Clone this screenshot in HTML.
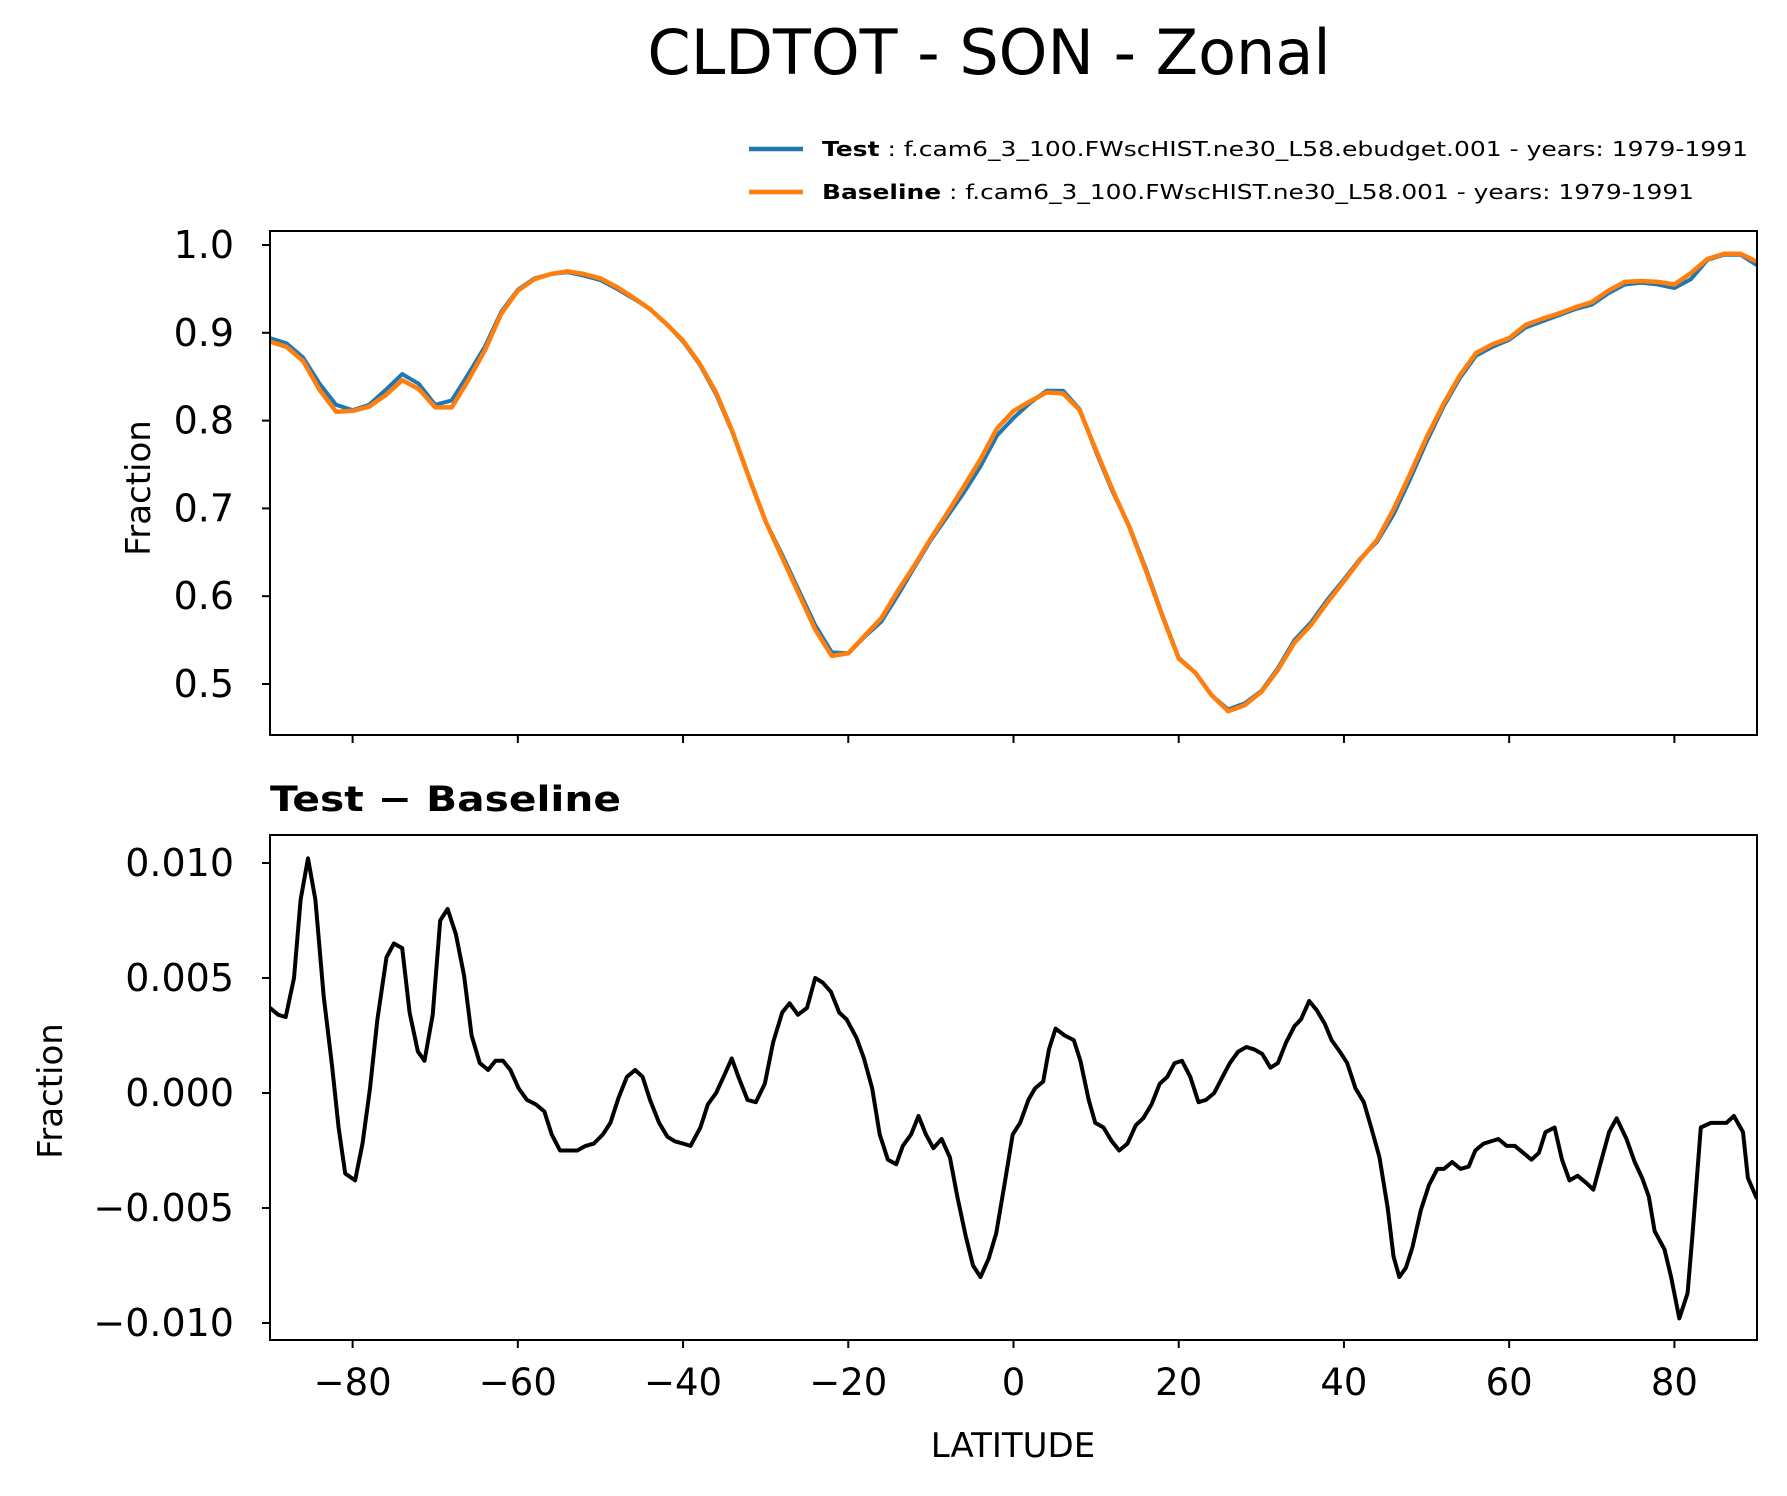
<!DOCTYPE html>
<html><head><meta charset="utf-8"><style>
body{margin:0;background:#fff}
svg{display:block;font-family:"DejaVu Sans","Liberation Sans",sans-serif}
</style></head><body>
<svg id="chart" width="1787" height="1496" viewBox="0 0 1787 1496" xmlns="http://www.w3.org/2000/svg">
<rect width="1787" height="1496" fill="#fff"/>
<text x="989" y="74" font-size="62" text-anchor="middle">CLDTOT - SON - Zonal</text>
<g>
<line x1="749" y1="149" x2="803" y2="149" stroke="#1f77b4" stroke-width="4.5"/>
<text x="822" y="156" font-size="20" textLength="926" lengthAdjust="spacingAndGlyphs"><tspan font-weight="bold">Test</tspan> : f.cam6_3_100.FWscHIST.ne30_L58.ebudget.001 - years: 1979-1991</text>
<line x1="749" y1="192" x2="803" y2="192" stroke="#ff7f0e" stroke-width="4.5"/>
<text x="822" y="199" font-size="20" textLength="872" lengthAdjust="spacingAndGlyphs"><tspan font-weight="bold">Baseline</tspan> : f.cam6_3_100.FWscHIST.ne30_L58.001 - years: 1979-1991</text>
</g>
<g id="top"></g>
<g id="bot"></g>
<text x="270" y="811" font-size="35" font-weight="bold" textLength="351" lengthAdjust="spacingAndGlyphs">Test − Baseline</text>
<text x="1013" y="1457" font-size="34" text-anchor="middle">LATITUDE</text>
<text transform="translate(150,488) rotate(-90)" font-size="34" text-anchor="middle">Fraction</text>
<text transform="translate(62,1091) rotate(-90)" font-size="34" text-anchor="middle">Fraction</text>
</svg>
<script>
const latTop = [-90,-88,-86,-84,-82,-80,-78,-76,-74,-72,-70,-68,-66,-64,-62,-60,-58,-56,-54,-52,-50,-48,-46,-44,-42,-40,-38,-36,-34,-32,-30,-28,-26,-24,-22,-20,-18,-16,-14,-12,-10,-8,-6,-4,-2,0,2,4,6,8,10,12,14,16,18,20,22,24,26,28,30,32,34,36,38,40,42,44,46,48,50,52,54,56,58,60,62,64,66,68,70,72,74,76,78,80,82,84,86,88,90];
const baseline = [0.890,0.884,0.868,0.835,0.810,0.811,0.816,0.829,0.846,0.836,0.815,0.815,0.846,0.880,0.922,0.948,0.961,0.967,0.970,0.967,0.962,0.952,0.940,0.927,0.910,0.891,0.865,0.832,0.787,0.735,0.685,0.644,0.603,0.562,0.532,0.535,0.555,0.575,0.606,0.635,0.666,0.695,0.725,0.756,0.791,0.811,0.822,0.832,0.831,0.812,0.766,0.721,0.679,0.630,0.578,0.529,0.513,0.487,0.469,0.476,0.491,0.516,0.547,0.567,0.593,0.617,0.642,0.664,0.699,0.739,0.781,0.818,0.851,0.877,0.887,0.894,0.909,0.916,0.922,0.929,0.935,0.948,0.958,0.959,0.958,0.955,0.968,0.984,0.990,0.990,0.981];
const test = [0.894,0.888,0.872,0.842,0.818,0.812,0.818,0.835,0.853,0.842,0.818,0.823,0.853,0.884,0.924,0.949,0.962,0.967,0.969,0.965,0.960,0.950,0.939,0.927,0.910,0.890,0.864,0.830,0.786,0.735,0.685,0.647,0.607,0.567,0.536,0.535,0.554,0.571,0.601,0.633,0.664,0.691,0.718,0.748,0.783,0.803,0.820,0.834,0.834,0.813,0.764,0.719,0.680,0.632,0.579,0.530,0.513,0.487,0.471,0.478,0.492,0.518,0.550,0.570,0.596,0.619,0.643,0.662,0.693,0.733,0.776,0.815,0.848,0.874,0.884,0.892,0.906,0.913,0.920,0.927,0.932,0.945,0.955,0.957,0.955,0.951,0.961,0.983,0.989,0.989,0.977];
const latDiff = [-90,-89.0,-88.1,-87.1,-86.3,-85.4,-84.5,-83.5,-82.5,-81.7,-80.9,-79.7,-78.8,-77.9,-77.0,-75.9,-75.0,-74.0,-73.1,-72.1,-71.3,-70.3,-69.4,-68.5,-67.5,-66.5,-65.6,-64.6,-63.6,-62.7,-61.8,-60.9,-59.9,-58.9,-57.8,-56.8,-55.9,-54.9,-53.9,-52.8,-51.8,-50.8,-49.7,-48.8,-47.8,-46.8,-45.8,-44.9,-44.0,-42.9,-41.9,-41.0,-40.0,-39.1,-37.9,-37.0,-36.0,-35.1,-34.1,-33.3,-32.2,-31.2,-30.1,-29.1,-28.0,-27.1,-26.1,-25.0,-24.0,-23.1,-22.1,-21.1,-20.2,-19.0,-18.1,-17.1,-16.2,-15.2,-14.2,-13.4,-12.4,-11.5,-10.6,-9.7,-8.7,-7.7,-6.8,-5.8,-4.9,-4.0,-3.0,-2.1,-1.1,-0.1,0.8,1.8,2.6,3.6,4.3,5.1,6.2,7.3,8.1,9.1,9.9,10.9,11.9,12.8,13.8,14.8,15.7,16.7,17.7,18.6,19.5,20.4,21.4,22.4,23.3,24.3,25.3,26.2,27.2,28.2,29.1,30.1,31.1,32.0,33.0,34.0,34.8,35.8,36.7,37.7,38.5,39.5,40.4,41.4,42.4,43.3,44.3,45.3,46.0,46.7,47.5,48.3,49.3,50.3,51.3,52.1,53.1,54.1,55.1,55.9,56.9,58.7,59.7,60.7,61.7,62.7,63.6,64.4,65.5,66.4,67.3,68.3,69.3,70.2,71.1,72.1,73.0,74.2,75.2,76.1,76.9,77.6,78.8,79.6,80.6,81.6,82.2,83.2,84.4,85.5,86.3,87.2,88.3,88.9,90];
const diff = [0.0037,0.0034,0.0033,0.0050,0.0084,0.0102,0.0084,0.0042,0.0012,-0.0015,-0.0035,-0.0038,-0.0022,0.0002,0.0032,0.0059,0.0065,0.0063,0.0035,0.0018,0.0014,0.0034,0.0075,0.0080,0.0069,0.0051,0.0025,0.0013,0.0010,0.0014,0.0014,0.0010,0.0002,-0.0003,-0.0005,-0.0008,-0.0018,-0.0025,-0.0025,-0.0025,-0.0023,-0.0022,-0.0018,-0.0013,-0.0002,0.0007,0.0010,0.0007,-0.0003,-0.0013,-0.0019,-0.0021,-0.0022,-0.0023,-0.0015,-0.0005,0.0000,0.0007,0.0015,0.0007,-0.0003,-0.0004,0.0004,0.0022,0.0035,0.0039,0.0034,0.0037,0.0050,0.0048,0.0044,0.0035,0.0032,0.0024,0.0015,0.0002,-0.0018,-0.0029,-0.0031,-0.0023,-0.0018,-0.0010,-0.0018,-0.0024,-0.0020,-0.0028,-0.0045,-0.0062,-0.0075,-0.0080,-0.0072,-0.0061,-0.0040,-0.0018,-0.0013,-0.0003,0.0002,0.0005,0.0019,0.0028,0.0025,0.0023,0.0014,-0.0003,-0.0013,-0.0015,-0.0021,-0.0025,-0.0022,-0.0014,-0.0011,-0.0005,0.0004,0.0007,0.0013,0.0014,0.0007,-0.0004,-0.0003,0.0000,0.0007,0.0013,0.0018,0.0020,0.0019,0.0017,0.0011,0.0013,0.0022,0.0029,0.0032,0.0040,0.0036,0.0030,0.0023,0.0018,0.0013,0.0002,-0.0004,-0.0015,-0.0028,-0.0050,-0.0071,-0.0080,-0.0076,-0.0067,-0.0051,-0.0040,-0.0033,-0.0033,-0.0030,-0.0033,-0.0032,-0.0025,-0.0022,-0.0020,-0.0023,-0.0023,-0.0026,-0.0029,-0.0026,-0.0017,-0.0015,-0.0029,-0.0038,-0.0036,-0.0039,-0.0042,-0.0030,-0.0017,-0.0011,-0.0020,-0.0030,-0.0037,-0.0045,-0.0060,-0.0068,-0.0080,-0.0098,-0.0087,-0.0061,-0.0015,-0.0013,-0.0013,-0.0013,-0.0010,-0.0017,-0.0037,-0.0046];
const xTicks = [-80,-60,-40,-20,0,20,40,60,80];
const xTickLabels = ["−80","−60","−40","−20","0","20","40","60","80"];
const topTicks = [0.5,0.6,0.7,0.8,0.9,1.0];
const topTickLabels = ["0.5","0.6","0.7","0.8","0.9","1.0"];
const botTicks = [-0.010,-0.005,0,0.005,0.010];
const botTickLabels = ["−0.010","−0.005","0.000","0.005","0.010"];

const NS = "http://www.w3.org/2000/svg";
const L = 270, R = 1757;
const xs = v => L + (v + 90) / 180 * (R - L);
const yTop = v => 245 + (1.0 - v) * 878;
const yBot = v => 1093 - v * 23000;
function mk(tag, attrs, parent) {
  const e = document.createElementNS(NS, tag);
  for (const k in attrs) e.setAttribute(k, attrs[k]);
  parent.appendChild(e);
  return e;
}
function path(xsArr, ysArr, sy, color, w, parent) {
  let d = "";
  for (let i = 0; i < xsArr.length; i++) d += (i ? "L" : "M") + xs(xsArr[i]).toFixed(1) + "," + sy(ysArr[i]).toFixed(1);
  return mk("path", {d: d, fill: "none", stroke: color, "stroke-width": w, "stroke-linejoin": "round"}, parent);
}
function panel(g, top, bot, ticks, labels, sy, showX, pre) {
  const clip = mk("clipPath", {id: pre + "clip"}, g);
  mk("rect", {x: L, y: top, width: R - L, height: bot - top}, clip);
  const series = mk("g", {"clip-path": "url(#" + pre + "clip)"}, g);
  
  
  ticks.forEach((t, i) => {
    const y = sy(t);
    const tk = mk("line", {x1: L - 8, x2: L, y1: y, y2: y, stroke: "#000", "stroke-width": 2}, g);
    
    
    const tx = mk("text", {x: L - 36, y: y + 13, "font-size": 38, "text-anchor": "end"}, g);
    
    
    tx.textContent = labels[i];
  });
  xTicks.forEach((t, i) => {
    const x = xs(t);
    const tk = mk("line", {x1: x, x2: x, y1: bot, y2: bot + 8, stroke: "#000", "stroke-width": 2}, g);
    
    
    if (showX) {
      const tx = mk("text", {x: x, y: bot + 55, "font-size": 37, "text-anchor": "middle"}, g);
      
      
      tx.textContent = xTickLabels[i];
    }
  });
  const fr = mk("rect", {x: L, y: top, width: R - L, height: bot - top, fill: "none", stroke: "#000", "stroke-width": 2}, g);
  
  
  return series;
}
const topG = document.getElementById("top");
const s1 = panel(topG, 231, 735, topTicks, topTickLabels, yTop, false, "top");
const pt = path(latTop, test, yTop, "#1f77b4", 4, s1);


const pb = path(latTop, baseline, yTop, "#ff7f0e", 4.5, s1);


const botG = document.getElementById("bot");
const s2 = panel(botG, 835, 1340, botTicks, botTickLabels, yBot, true, "bottom");
const pd = path(latDiff, diff, yBot, "#000", 4, s2);


</script>
</body></html>
